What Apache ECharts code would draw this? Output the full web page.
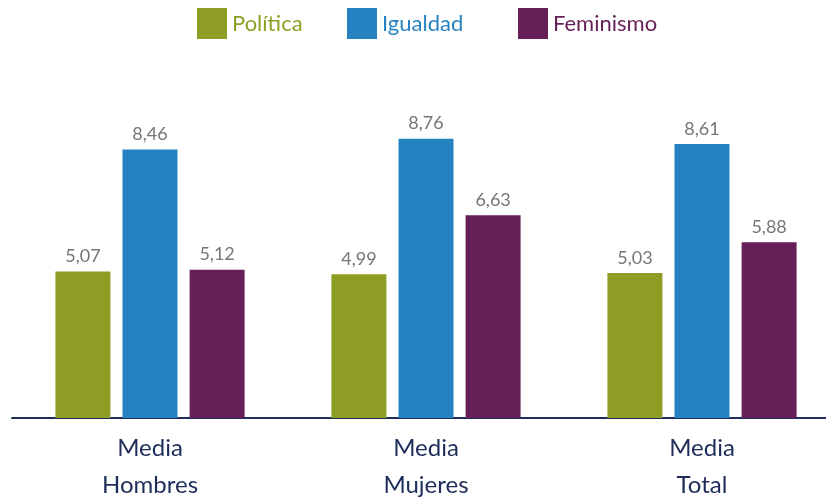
<!DOCTYPE html>
<html><head><meta charset="utf-8">
<script src="https://cdn.jsdelivr.net/npm/echarts@6/dist/echarts.min.js"></script>
<style>html,body{margin:0;padding:0;background:#fff}#c{width:826px;height:499px}</style>
</head><body><div id="c"></div>
<script>
const categories = ['Media\nHombres', 'Media\nMujeres', 'Media\nTotal'];
const seriesNames = ['Política', 'Igualdad', 'Feminismo'];
const politica = [5.07, 4.99, 5.03];
const igualdad = [8.46, 8.76, 8.61];
const feminismo = [5.12, 6.63, 5.88];
const colors = ['#8E9E25', '#2683C1', '#671F57'];

const chart = echarts.init(document.getElementById('c'));
const valuesList = [politica, igualdad, feminismo];
const legendLefts = [192, 342, 513];
const labelFmt = p => p.value.toFixed(2).replace('.', ',');

chart.setOption({
  animation: false,
  legend: seriesNames.map((n, i) => ({
    data: [n], left: legendLefts[i], top: 3,
    itemWidth: 30, itemHeight: 31, itemGap: 11,
    textStyle: { color: colors[i], fontFamily: 'Lato', fontSize: 22 },
    icon: 'rect'
  })),
  grid: { left: 12, width: 828, top: 94, bottom: 81, containLabel: false, outerBoundsMode: 'none' },
  xAxis: {
    type: 'category', data: categories,
    axisLine: { lineStyle: { color: '#1F2D5A', width: 2 } },
    axisTick: { show: false },
    axisLabel: { color: '#1F2D5A', fontFamily: 'Lato', fontSize: 24, lineHeight: 37, margin: 12 }
  },
  yAxis: { type: 'value', min: 1, max: 10, show: false, splitLine: { show: false } },
  series: seriesNames.map((n, i) => ({
    name: n, type: 'bar', data: valuesList[i],
    barWidth: 55, barGap: '22%',
    itemStyle: { color: colors[i] },
    label: { show: true, position: 'top', distance: 6, formatter: labelFmt, color: '#767676', fontFamily: 'Lato', fontSize: 18 }
  }))
});
</script></body></html>
